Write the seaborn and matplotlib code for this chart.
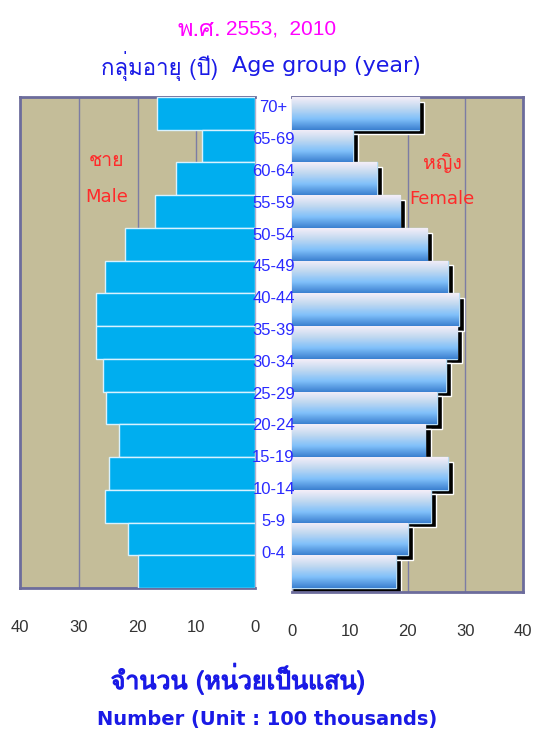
import numpy as np
import pandas as pd
import matplotlib
matplotlib.use('Agg')
import matplotlib.pyplot as plt
from matplotlib import font_manager
import matplotlib.patheffects as pe
from matplotlib.colors import LinearSegmentedColormap
import seaborn as sns

# Population by age group, unit = 100 thousands (2010)
age_groups = ['70+', '65-69', '60-64', '55-59', '50-54', '45-49', '40-44', '35-39',
              '30-34', '25-29', '20-24', '15-19', '10-14', '5-9', '0-4']
male = [16.6, 9.1, 13.4, 17.1, 22.2, 25.6, 27.1, 27.1, 25.9, 25.3, 23.1, 24.9, 25.6, 21.6, 20.0]
female = [22.0, 10.5, 14.7, 18.75, 23.4, 27.0, 28.9, 28.6, 26.6, 25.1, 23.1, 27.0, 24.0, 20.0, 18.0]
ticks = [0, 10, 20, 30, 40]

df = pd.DataFrame({'age': age_groups, 'male': male, 'female': female})

sns.set_style('white')

# find a font that has Thai glyphs
thai_fam = 'DejaVu Sans'
for f in font_manager.fontManager.ttflist:
    try:
        cm = matplotlib.ft2font.FT2Font(f.fname).get_charmap()
    except Exception:
        continue
    if 0x0E01 in cm and 0x0E32 in cm:
        thai_fam = f.name
        break
plt.rcParams['font.family'] = ['DejaVu Sans', thai_fam]
num_font = 'Liberation Sans'

W, H = 539, 733
fig = plt.figure(figsize=(W / 100, H / 100), dpi=100)

def box(x0, y0, x1, y1):
    return [x0 / W, 1 - y1 / H, (x1 - x0) / W, (y1 - y0) / H]

def ftext(x, y, s, **kw):
    return fig.text(x / W, 1 - y / H, s, va='center', **kw)

tan = '#c4bd99'
grid_c = '#7c7ca4'
frame_c = '#6c6c9c'

# ---- male panel
axm = fig.add_axes(box(20, 97, 255, 588))
axm.set_facecolor(tan)
sns.barplot(data=df, x='male', y='age', orient='h', color='#00aeef', width=1.0,
            edgecolor='#d8f2ff', linewidth=1.0, saturation=1, ax=axm, zorder=3)
axm.set_xlim(40, 0)
axm.set_ylim(14.5, -0.5)
for g in [10, 20, 30]:
    axm.axvline(g, color=grid_c, lw=1, zorder=1)

# ---- female panel
axf = fig.add_axes(box(292, 97, 523, 592))
axf.set_facecolor(tan)
ypos = np.arange(len(age_groups))
axf.barh(ypos + 0.14, df['female'] + 0.9, height=1.0, color='black', zorder=2)
sns.barplot(data=df, x='female', y='age', orient='h', color='#7fbff5', width=1.0,
            edgecolor='#b8dcf5', linewidth=1.0, saturation=1, ax=axf, zorder=3)
for g in [10, 20, 30]:
    axf.axvline(g, color=grid_c, lw=1, zorder=1)

# gradient fill for female bars
grad = LinearSegmentedColormap.from_list('g', ['#f4eef8', '#c0d8f0', '#80c0fa', '#3c80d0'])
gimg = np.linspace(0, 1, 64).reshape(-1, 1)
for p in axf.patches:
    if p.get_facecolor()[:3] == (0.0, 0.0, 0.0):
        continue
    x0, y0 = p.get_x(), p.get_y()
    w, h = p.get_width(), p.get_height()
    im = axf.imshow(gimg, cmap=grad, aspect='auto', extent=[x0, x0 + w, y0 + h, y0],
                    zorder=3.5, interpolation='bilinear')
    im.set_clip_path(p)
axf.set_xlim(0, 40)
axf.set_ylim(14.62, -0.5)

for ax, thick in [(axm, 'left'), (axf, 'right')]:
    ax.set_xticks(ticks)
    ax.set_xticklabels([str(t) for t in ticks], family=num_font, fontsize=12)
    ax.set_yticks([])
    ax.set_xlabel('')
    ax.set_ylabel('')
    for s in ax.spines.values():
        s.set_visible(True)
        s.set_color(frame_c)
        s.set_linewidth(2)
    other = 'right' if thick == 'left' else 'left'
    ax.spines[other].set_color('#b0b0cc')
    ax.spines[other].set_linewidth(1)
    ax.tick_params(axis='x', colors='#7c7ca4', length=5, width=1, direction='out',
                   labelcolor='#333333', pad=18)

# ---- age labels in the middle
axl = fig.add_axes(box(255, 92, 292, 569))
axl.set_xlim(0, 1)
axl.set_ylim(14.5, -0.5)
axl.axis('off')
for i, a in enumerate(age_groups):
    axl.text(0.5, i, a, ha='center', va='center', color='#2a2aff', fontsize=12,
             family=num_font)

# sex labels
red = '#ff2a2a'
ftext(107, 161, 'ชาย', ha='center', color=red, fontsize=14, family=thai_fam)
ftext(107, 197, 'Male', ha='center', color=red, fontsize=13)
ftext(442, 163, 'หญิง', ha='center', color=red, fontsize=14, family=thai_fam)
ftext(442, 199, 'Female', ha='center', color=red, fontsize=13)

# titles
blue = '#1a1ae6'
ftext(221, 29, 'พ.ศ.', ha='right', color='#ff00ff', fontsize=17, family=thai_fam)
ftext(226, 29, '2553,  2010', ha='left', color='#ff00ff', fontsize=15, family=num_font)
ftext(218, 66, 'กลุ่มอายุ (ปี)', ha='right', color=blue, fontsize=16, family=thai_fam)
ftext(232, 66, 'Age group (year)', ha='left', color=blue, fontsize=16)
bold = [pe.withStroke(linewidth=0.9, foreground=blue)]
ftext(238, 679, 'จำนวน (หน่วยเป็นแสน)', ha='center', color=blue, fontsize=18,
      family=thai_fam, path_effects=bold)
ftext(267, 719, 'Number (Unit : 100 thousands)', ha='center', color=blue, fontsize=14,
      fontweight='bold')

fig.savefig('out.png', dpi=100)
